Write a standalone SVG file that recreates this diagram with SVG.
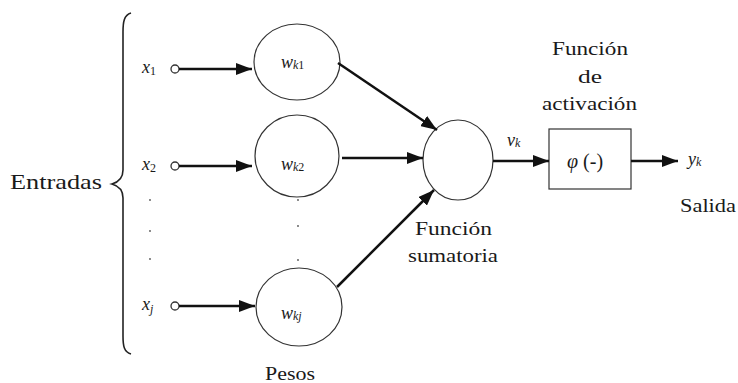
<svg xmlns="http://www.w3.org/2000/svg" width="738" height="383" viewBox="0 0 738 383">
<style>
text{font-family:'Liberation Serif','DejaVu Serif',serif;fill:#1a1a1a}
.it{font-style:italic}
.sub{font-size:12px}
.node{fill:#fff;stroke:#333;stroke-width:1.2}
.conn{stroke:#111;stroke-width:2.5;fill:none;marker-end:url(#ah)}
.port{fill:#fff;stroke:#333;stroke-width:1.3}
.dot{fill:#555}
</style>
<defs>
<marker id="ah" markerUnits="userSpaceOnUse" markerWidth="18" markerHeight="12" refX="16" refY="6" orient="auto">
<path d="M0,0 L16,6 L0,12 Z" fill="#111"/>
</marker>
</defs>
<rect width="738" height="383" fill="#fff"/>
<g id="brace">
<path d="M131,13 C124,15 123,22 123,32 L123,170 C123,178 119,182 112,184 C119,186 123,190 123,198 L123,336 C123,346 124,352 131,354" fill="none" stroke="#222" stroke-width="1.6"/>
<text x="10" y="189" font-size="22" textLength="92" lengthAdjust="spacingAndGlyphs">Entradas</text>
</g>

<g id="x1">
<text x="142" y="73" font-size="18"><tspan class="it">x</tspan><tspan class="sub" dy="2">1</tspan></text>
<circle class="port" cx="175" cy="69" r="4"/>
</g>
<g id="x2">
<text x="142" y="170" font-size="18"><tspan class="it">x</tspan><tspan class="sub" dy="2">2</tspan></text>
<circle class="port" cx="175" cy="166" r="4"/>
</g>
<g id="xj">
<text x="142" y="310" font-size="18"><tspan class="it">x</tspan><tspan class="sub it" dy="3">j</tspan></text>
<circle class="port" cx="175" cy="306" r="4"/>
</g>

<g id="dots">
<circle class="dot" cx="150" cy="200" r="0.9"/>
<circle class="dot" cx="150" cy="231" r="0.9"/>
<circle class="dot" cx="150" cy="259" r="0.9"/>
<circle class="dot" cx="298" cy="200" r="0.9"/>
<circle class="dot" cx="298" cy="226" r="0.9"/>
<circle class="dot" cx="298" cy="260" r="0.9"/>
</g>

<g id="wk1">
<ellipse class="node" cx="297" cy="62" rx="43" ry="38"/>
<text x="281" y="68" font-size="18"><tspan class="it">w</tspan><tspan class="sub it" dy="1">k</tspan><tspan class="sub">1</tspan></text>
</g>
<g id="wk2">
<ellipse class="node" cx="297" cy="156" rx="42" ry="41"/>
<text x="281" y="170" font-size="18"><tspan class="it">w</tspan><tspan class="sub it" dy="1">k</tspan><tspan class="sub">2</tspan></text>
</g>
<g id="wkj">
<ellipse class="node" cx="299" cy="307" rx="43" ry="39"/>
<text x="281" y="319" font-size="18"><tspan class="it">w</tspan><tspan class="sub it" dy="1">kj</tspan></text>
</g>
<g id="pesos">
<text x="265" y="380" font-size="19" textLength="50" lengthAdjust="spacingAndGlyphs">Pesos</text>
</g>

<g id="sum">
<ellipse class="node" cx="458" cy="160" rx="35" ry="40"/>
<text x="415" y="235" font-size="19" textLength="77" lengthAdjust="spacingAndGlyphs">Función</text>
<text x="408" y="262" font-size="19" textLength="90" lengthAdjust="spacingAndGlyphs">sumatoria</text>
</g>

<g id="act">
<rect x="549" y="129" width="82" height="60" fill="#fff" stroke="#333" stroke-width="1.2"/>
<text x="567" y="168" font-size="20"><tspan class="it">φ</tspan> (-)</text>
<text x="552" y="55" font-size="19" textLength="76" lengthAdjust="spacingAndGlyphs">Función</text>
<text x="578" y="83" font-size="19" textLength="24" lengthAdjust="spacingAndGlyphs">de</text>
<text x="542" y="110" font-size="19" textLength="95" lengthAdjust="spacingAndGlyphs">activación</text>
</g>

<g id="vk">
<text x="507" y="146" font-size="18"><tspan class="it">v</tspan><tspan class="sub it" dy="1">k</tspan></text>
</g>
<g id="yk">
<text x="688" y="165" font-size="18"><tspan class="it">y</tspan><tspan class="sub it" dy="1">k</tspan></text>
<text x="680" y="212" font-size="19" textLength="56" lengthAdjust="spacingAndGlyphs">Salida</text>
</g>

<g id="connectors">
<path class="conn" d="M179,69 L252,69"/>
<path class="conn" d="M179,166 L252,166"/>
<path class="conn" d="M179,306 L255,306"/>
<path class="conn" d="M338,63 L437,130"/>
<path class="conn" d="M342,158 L423,158"/>
<path class="conn" d="M337,287 L434,190"/>
<path class="conn" d="M493,161 L549,161"/>
<path class="conn" d="M631,161 L678,161"/>
</g>
</svg>
